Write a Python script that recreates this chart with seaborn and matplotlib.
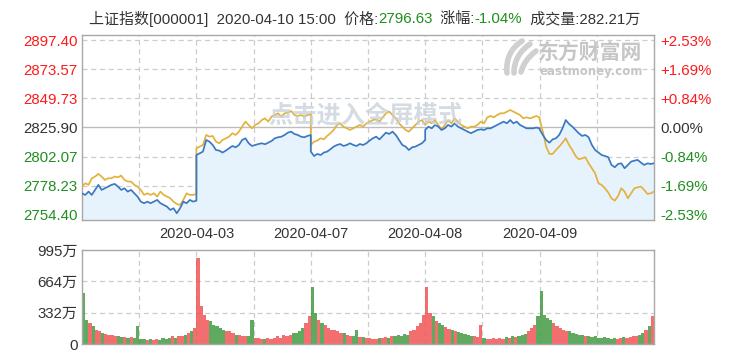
import numpy as np
import pandas as pd
import matplotlib
matplotlib.use("Agg")
import matplotlib.pyplot as plt
from matplotlib.path import Path
from matplotlib.patches import PathPatch
import seaborn as sns

# ---------------- data ----------------
dates = ["2020-04-03", "2020-04-07", "2020-04-08", "2020-04-09"]
prev_close = 2825.90
price_ticks = [2754.40, 2778.23, 2802.07, 2825.90, 2849.73, 2873.57, 2897.40]
pct_labels = ["-2.53%", "-1.69%", "-0.84%", "0.00%", "+0.84%", "+1.69%", "+2.53%"]
vol_ticks = [0, 332, 664, 995]
vol_labels = ["0", "332万", "664万", "995万"]

price_d1 = [2772.1, 2770.8, 2773.5, 2770.8, 2774.9, 2779.0, 2774.9, 2776.2, 2777.6, 2779.0, 2779.8, 2777.6,
            2774.9, 2776.2, 2773.5, 2774.9, 2772.1, 2769.4, 2765.3, 2764.0, 2765.3, 2764.0, 2765.3, 2766.7,
            2764.0, 2762.6, 2761.2, 2758.5, 2759.9, 2755.8, 2759.9, 2765.3, 2764.0, 2766.7, 2765.3, 2766.1]
price_d2 = [2803.4, 2804.8, 2806.2, 2815.7, 2814.3, 2811.6, 2807.5, 2807.0, 2805.4, 2807.0, 2808.9, 2810.8,
            2809.7, 2811.6, 2815.7, 2817.1, 2813.0, 2810.8, 2811.6, 2812.4, 2813.0, 2812.2, 2813.5, 2814.9,
            2817.1, 2817.9, 2818.4, 2819.8, 2821.7, 2822.5, 2820.6, 2819.8, 2818.4, 2817.9, 2819.0, 2819.8]
price_d3 = [2806.2, 2802.6, 2804.3, 2803.4, 2805.4, 2806.2, 2808.1, 2810.3, 2811.6, 2812.4, 2810.8, 2811.6,
            2813.0, 2811.6, 2810.8, 2812.4, 2811.6, 2813.0, 2815.2, 2817.1, 2818.4, 2816.2, 2819.0, 2821.7,
            2820.6, 2822.5, 2819.8, 2815.7, 2811.6, 2810.3, 2807.5, 2809.7, 2810.3, 2811.6, 2813.0, 2815.7]
price_d4 = [2823.9, 2826.6, 2825.2, 2828.0, 2826.6, 2823.9, 2825.2, 2828.0, 2826.6, 2829.3, 2826.6, 2825.2,
            2823.9, 2822.5, 2821.2, 2822.5, 2823.9, 2824.4, 2823.9, 2825.2, 2825.2, 2826.6, 2828.0, 2829.3,
            2830.7, 2829.3, 2832.0, 2829.3, 2830.7, 2828.0, 2826.6, 2825.2, 2825.2, 2825.2, 2825.8, 2825.2]
price_d5 = [2824.4, 2819.8, 2815.7, 2813.5, 2816.2, 2817.1, 2819.8, 2825.2, 2832.0, 2828.8, 2826.6, 2823.9,
            2821.2, 2819.0, 2819.8, 2817.9, 2811.6, 2807.5, 2805.4, 2803.4, 2802.6, 2801.6, 2795.3, 2793.4,
            2796.1, 2796.6, 2792.6, 2795.3, 2798.0, 2798.8, 2799.4, 2797.2, 2795.3, 2796.6, 2796.1, 2796.63]

avg_d1 = [2777.6, 2780.3, 2779.0, 2784.4, 2785.8, 2788.0, 2785.8, 2783.0, 2784.4, 2784.4, 2785.8, 2785.2,
          2786.6, 2783.0, 2781.7, 2781.7, 2779.0, 2777.6, 2774.9, 2770.8, 2772.1, 2770.8, 2772.1, 2769.4,
          2773.5, 2770.8, 2769.4, 2768.1, 2765.3, 2763.4, 2762.6, 2766.7, 2772.1, 2770.8, 2770.8, 2771.6]
avg_d2 = [2808.9, 2810.3, 2811.6, 2819.8, 2818.4, 2819.0, 2814.3, 2813.0, 2815.7, 2817.1, 2818.4, 2821.2,
          2819.8, 2822.5, 2826.6, 2830.7, 2828.0, 2825.2, 2828.0, 2829.3, 2832.0, 2833.4, 2830.7, 2834.8,
          2836.1, 2837.5, 2834.8, 2837.5, 2838.0, 2839.4, 2836.1, 2835.3, 2836.1, 2834.8, 2836.1, 2836.7]
avg_d3 = [2811.6, 2814.3, 2815.2, 2817.1, 2816.2, 2819.0, 2821.2, 2823.9, 2828.0, 2829.3, 2826.6, 2825.2,
          2823.9, 2825.2, 2826.6, 2828.0, 2826.6, 2829.3, 2830.7, 2832.0, 2832.6, 2830.7, 2834.2, 2837.5,
          2838.9, 2836.1, 2833.4, 2829.3, 2826.6, 2823.9, 2822.5, 2825.2, 2828.0, 2830.7, 2832.0, 2828.0]
avg_d4 = [2828.0, 2830.7, 2829.3, 2832.0, 2828.0, 2823.9, 2828.0, 2832.0, 2829.3, 2833.4, 2830.7, 2828.0,
          2826.6, 2825.2, 2826.6, 2826.6, 2828.0, 2830.7, 2829.3, 2834.2, 2835.3, 2834.2, 2836.1, 2837.5,
          2837.5, 2838.9, 2840.2, 2838.9, 2837.5, 2836.1, 2833.4, 2834.2, 2833.4, 2834.2, 2835.3, 2834.2]
avg_d5 = [2832.6, 2822.5, 2810.3, 2804.3, 2804.3, 2807.5, 2810.3, 2813.5, 2817.1, 2811.6, 2807.5, 2802.6,
          2799.9, 2800.7, 2801.6, 2796.6, 2792.6, 2788.5, 2780.3, 2778.9, 2776.2, 2772.7, 2768.0, 2766.1,
          2769.9, 2776.2, 2773.5, 2768.0, 2772.1, 2776.2, 2777.0, 2777.6, 2774.9, 2771.6, 2772.1, 2773.5]

vol_d1 = [538, 257, 222, 186, 151, 134, 116, 109, 98, 98, 88, 81, 74, 74, 63, 74, 63, 186,
          53, 53, 46, 53, 46, 53, 46, 63, 53, 63, 81, 63, 88, 81, 98, 116, 134, 169]
vol_d2 = [907, 397, 310, 257, 239, 204, 186, 169, 151, 134, 134, 116, 98, 98, 88, 81, 81, 257,
          63, 63, 53, 53, 63, 53, 63, 81, 63, 98, 81, 98, 116, 116, 134, 169, 222, 292]
vol_d3 = [608, 327, 257, 222, 204, 169, 151, 144, 134, 116, 116, 98, 88, 88, 151, 74, 74, 63,
          63, 53, 53, 63, 63, 74, 63, 81, 81, 98, 88, 109, 98, 134, 151, 186, 222, 310]
vol_d4 = [608, 327, 292, 239, 222, 204, 179, 158, 151, 134, 123, 116, 109, 98, 88, 81, 74, 204,
          63, 53, 53, 63, 53, 63, 53, 74, 63, 81, 74, 88, 98, 109, 134, 169, 204, 292]
vol_d5 = [556, 310, 274, 257, 222, 186, 169, 151, 134, 134, 116, 109, 98, 98, 88, 81, 74, 81,
          63, 63, 74, 63, 53, 63, 53, 63, 74, 63, 74, 81, 88, 98, 116, 151, 186, 292]

price_days = [price_d1, price_d2, price_d3, price_d4, price_d5]
avg_days = [avg_d1, avg_d2, avg_d3, avg_d4, avg_d5]
vol_days = [vol_d1, vol_d2, vol_d3, vol_d4, vol_d5]

# ---------------- tables ----------------
rows = []
for d, (p, a) in enumerate(zip(price_days, avg_days)):
    xs = d + np.linspace(0, 1, len(p))
    for x, pv, av in zip(xs, p, a):
        rows.append((x, pv, av))
line_df = pd.DataFrame(rows, columns=["x", "price", "avg"])

vrows = []
last = None
for d, (p, v) in enumerate(zip(price_days, vol_days)):
    n = len(v)
    for k in range(n):
        cur = p[min(k, len(p) - 1)]
        up = (last is not None) and (cur >= last)
        vrows.append((d + (k + 0.5) / n, v[k], up, 1.0 / n))
        last = cur
vol_df = pd.DataFrame(vrows, columns=["x", "vol", "up", "w"])

# ---------------- style ----------------
sns.set_theme(style="white")
plt.rcParams["font.family"] = ["Liberation Sans", "Noto Sans CJK SC", "DejaVu Sans"]
plt.rcParams["axes.unicode_minus"] = False

RED = "#ff1a1a"
GREEN = "#1f8f1f"
DARK = "#333333"
GRID = "#cccccc"
BORDER = "#a8a8a8"
BLUE = "#3b78c2"
YELLOW = "#e3b23c"
FILL = "#e6f3fd"
FS = 10.5

W, H = 729, 353
fig = plt.figure(figsize=(W / 100, H / 100), dpi=100)
fig.patch.set_facecolor("white")


def fx(px):
    return px / W


def fy(py):
    return 1 - py / H


ax = fig.add_axes([fx(82), fy(219.5), fx(654) - fx(82), fy(35) - fy(219.5)])
axv = fig.add_axes([fx(82), fy(344), fx(654) - fx(82), fy(250) - fy(344)])

ylo, yhi = 2750.7, 2901.5
ax.set_xlim(0, 5)
ax.set_ylim(ylo, yhi)

dash = (0, (4, 3))
for xv in np.arange(0.5, 5.0, 0.5):
    ax.axvline(xv, color=GRID, lw=0.9, ls=dash, zorder=1)
    axv.axvline(xv, color=GRID, lw=0.9, ls=dash, zorder=1)
for yv in price_ticks:
    if abs(yv - prev_close) < 1e-6:
        ax.axhline(yv, color="#bdbdbd", lw=1.0, zorder=1)
    else:
        ax.axhline(yv, color=GRID, lw=0.9, ls=dash, zorder=1)

ax.fill_between(line_df["x"], line_df["price"], ylo, color=FILL, lw=0, zorder=2)
sns.lineplot(data=line_df, x="x", y="avg", ax=ax, color=YELLOW, lw=1.25,
             estimator=None, sort=False, zorder=3)
sns.lineplot(data=line_df, x="x", y="price", ax=ax, color=BLUE, lw=1.25,
             estimator=None, sort=False, zorder=4)
ax.set_xlabel("")
ax.set_ylabel("")

ax.set_yticks(price_ticks)
ax.set_yticklabels([f"{v:.2f}" for v in price_ticks])
lcols = [GREEN, GREEN, GREEN, DARK, RED, RED, RED]
for lab, c in zip(ax.get_yticklabels(), lcols):
    lab.set_color(c)
    lab.set_fontsize(FS + 0.3)
ax.set_xticks([1, 2, 3, 4])
ax.set_xticklabels(dates, fontsize=FS, color=DARK)
ax.tick_params(axis="y", length=0, pad=3.3)
ax.tick_params(axis="x", length=0, pad=5.5)
for s in ax.spines.values():
    s.set_color(BORDER)
    s.set_linewidth(1.0)

ax2 = ax.twinx()
ax2.set_ylim(ylo, yhi)
ax2.set_yticks(price_ticks)
ax2.set_yticklabels(pct_labels)
for lab, c in zip(ax2.get_yticklabels(), lcols):
    lab.set_color(c)
    lab.set_fontsize(FS + 0.3)
ax2.tick_params(axis="y", length=0, pad=4.3)
for s in ax2.spines.values():
    s.set_visible(False)

# volume
axv.set_xlim(0, 5)
axv.set_ylim(0, 995)
for yv in [332, 664]:
    axv.axhline(yv, color=GRID, lw=0.9, ls=dash, zorder=1)
bar_cols = np.where(vol_df["up"], "#f25a5a", "#4a9e4a")
axv.bar(vol_df["x"], vol_df["vol"], width=vol_df["w"], color=bar_cols,
        linewidth=0, alpha=0.88, zorder=2)
axv.set_xticks([])
axv.set_yticks(vol_ticks)
axv.set_yticklabels(vol_labels, fontsize=FS + 0.3, color=DARK)
axv.tick_params(axis="y", length=0, pad=3.3)
for s in axv.spines.values():
    s.set_color(BORDER)
    s.set_linewidth(1.0)

# watermarks
fig.text(fx(590), fy(54), "东方财富网", fontsize=15, color="#c6c6c6",
         ha="center", va="center", fontweight="bold", zorder=6)
fig.text(fx(591), fy(71), "eastmoney.com", fontsize=8.5, color="#c6c6c6",
         ha="center", va="center", fontweight="bold", family=["DejaVu Sans"], zorder=6)
for (x0, y0), (xc, yc), (x1, y1) in [((507, 73), (505, 52), (522, 41)),
                                     ((514, 73), (514, 55), (530, 44)),
                                     ((521, 72), (524, 60), (536, 51))]:
    pth = Path([(fx(x0), fy(y0)), (fx(xc), fy(yc)), (fx(x1), fy(y1))],
               [Path.MOVETO, Path.CURVE3, Path.CURVE3])
    fig.add_artist(PathPatch(pth, transform=fig.transFigure, fill=False,
                             edgecolor="#d0d0d0", lw=4.0, capstyle="round", zorder=6))
fig.text(fx(365), fy(116), "点击进入全屏模式", fontsize=17.5, color="#c7d0da",
         alpha=0.75, ha="center", va="center", fontweight="bold", zorder=7)

# title with coloured pieces
pieces = [("上证指数[000001]  2020-04-10 15:00  价格:", DARK), ("2796.63", GREEN),
          ("  涨幅:", DARK), ("-1.04%", GREEN), ("  成交量:282.21万", DARK)]
renderer = fig.canvas.get_renderer()
texts = []
widths = []
for s, c in pieces:
    t = fig.text(0, fy(19), s, color=c, fontsize=FS + 0.3, ha="left", va="center")
    bb = t.get_window_extent(renderer=renderer)
    texts.append(t)
    widths.append(bb.width / W)
total = sum(widths)
xcur = 0.5 - total / 2
for t, w in zip(texts, widths):
    t.set_x(xcur)
    xcur += w

fig.savefig("out.png", dpi=100, facecolor="white")
